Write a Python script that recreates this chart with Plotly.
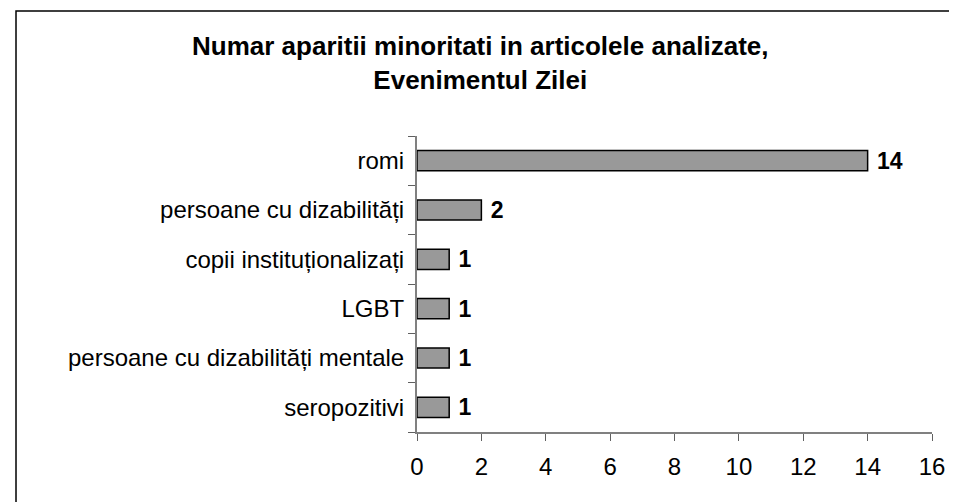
import plotly.graph_objects as go

categories = ["romi", "persoane cu dizabilități", "copii instituționalizați", "LGBT",
              "persoane cu dizabilități mentale", "seropozitivi"]
values = [14, 2, 1, 1, 1, 1]
x_ticks = [0, 2, 4, 6, 8, 10, 12, 14, 16]

OFF = 8  # page body margin
W, H = 957 - OFF, 502 - OFF
L, R, T, B = 417 - OFF, 941 - OFF, 136 - OFF, 432 - OFF
pw, ph = R - L, B - T
FONT = "Liberation Sans, Arial"

fig = go.Figure(go.Bar(
    y=categories, x=values, orientation="h",
    marker=dict(color="#999999", line=dict(color="black", width=1.5)),
    text=[" " + str(v) for v in values], textposition="outside",
    constraintext="none",
    textfont=dict(family=FONT, size=23, color="black", weight="bold"),
    cliponaxis=False,
))

fig.update_layout(
    width=W, height=H,
    margin=dict(l=L, r=W - R, t=T, b=H - B),
    paper_bgcolor="white", plot_bgcolor="white",
    showlegend=False, bargap=0.59,
    font=dict(family=FONT, size=24, color="black"),
    xaxis=dict(range=[0, 16], tickvals=x_ticks, showgrid=False, zeroline=False,
               showline=True, linecolor="#808080", linewidth=2,
               ticks="outside", ticklen=7, tickcolor="#606060", tickwidth=1,
               tickfont=dict(size=24), ticklabelstandoff=5),
    yaxis=dict(categoryorder="array", categoryarray=categories[::-1],
               showgrid=False, zeroline=False, showline=True, linecolor="#808080",
               linewidth=2, ticks="outside", ticklen=7, tickcolor="#606060",
               tickson="boundaries", tickfont=dict(size=24), ticklabelstandoff=6),
)

fig.add_annotation(
    text="<b>Numar aparitii minoritati in articolele analizate,<br>Evenimentul Zilei</b>",
    xref="paper", yref="paper", x=(482 - OFF - L) / pw, y=(B - (29 - OFF)) / ph,
    xanchor="center", yanchor="top", showarrow=False,
    font=dict(family=FONT, size=26, color="black"),
)

fig.add_shape(type="rect", xref="paper", yref="paper",
              x0=(9 - OFF - L) / pw, x1=(W + 20 - L) / pw,
              y0=(B - (H + 20)) / ph, y1=(B - (11 - OFF)) / ph,
              line=dict(color="black", width=1.5), fillcolor="rgba(0,0,0,0)")

fig.write_html("out.html")
